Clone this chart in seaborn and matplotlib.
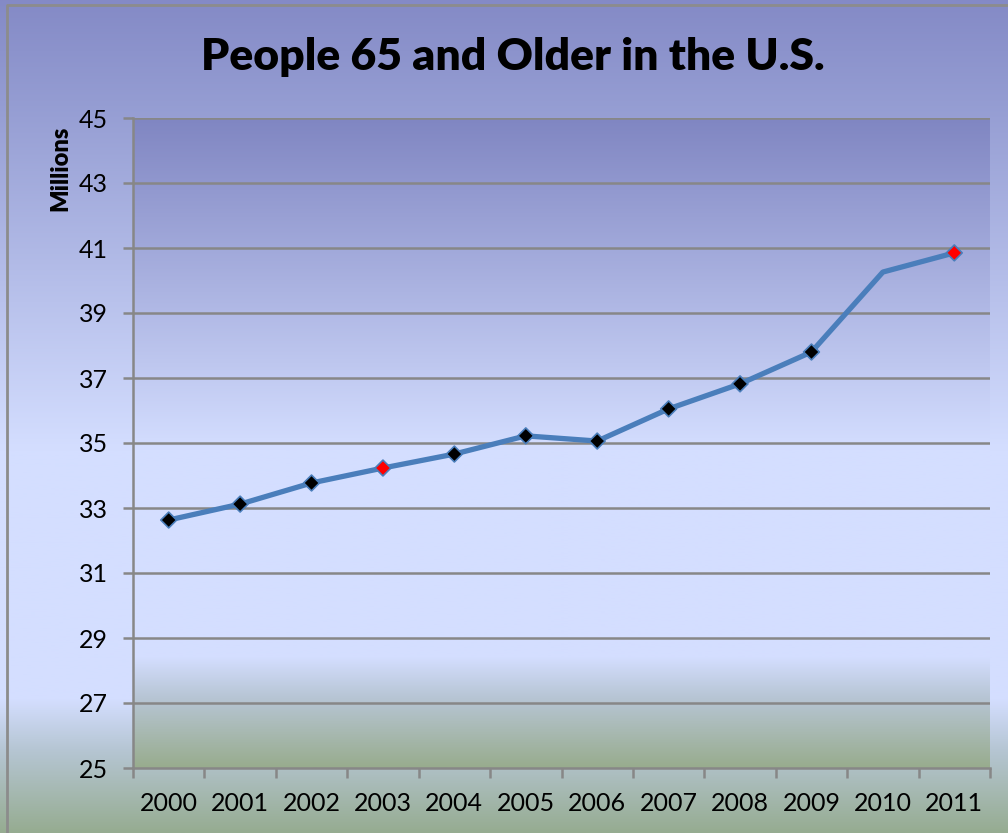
"""People 65 and older in the U.S. - Excel-style line chart with gradient fills."""
import matplotlib
matplotlib.use("Agg")
import matplotlib.pyplot as plt
import numpy as np
import pandas as pd
import seaborn as sns

years = ["2000", "2001", "2002", "2003", "2004", "2005",
         "2006", "2007", "2008", "2009", "2010", "2011"]
millions = [32.63, 33.12, 33.77, 34.23, 34.66, 35.22,
            35.06, 36.05, 36.82, 37.80, 40.26, 40.85]
marker_kind = ["normal", "normal", "normal", "highlight", "normal", "normal",
               "normal", "normal", "normal", "normal", "none", "highlight"]
y_ticks = [25, 27, 29, 31, 33, 35, 37, 39, 41, 43, 45]

sns.set_theme(style="white")
plt.rcParams["font.family"] = ["Lato", "DejaVu Sans"]
plt.rcParams["text.color"] = "black"
plt.rcParams["xtick.color"] = "black"
plt.rcParams["ytick.color"] = "black"

df = pd.DataFrame({"year": years, "pos": np.arange(len(years)),
                   "millions": millions, "kind": marker_kind})

W, H = 1008, 833
fig = plt.figure(figsize=(W / 100, H / 100), dpi=100)


def gradient(stops, n=400):
    # stops: list of (fraction from top, rgb 0-255)
    t = np.linspace(0, 1, n)
    fr = [s[0] for s in stops]
    cols = np.array([s[1] for s in stops], dtype=float) / 255
    img = np.stack([np.interp(t, fr, cols[:, i]) for i in range(3)], axis=1)
    return img[:, None, :]


# figure background gradient
bg = fig.add_axes([0, 0, 1, 1], zorder=-10)
bg.imshow(gradient([(0.0, (132, 138, 198)), (0.12, (148, 156, 210)),
                    (0.54, (212, 222, 255)), (0.84, (212, 222, 255)),
                    (0.90, (182, 198, 212)), (1.0, (150, 172, 145))]),
          aspect="auto", extent=[0, 1, 0, 1], origin="upper")
bg.set_xlim(0, 1)
bg.set_ylim(0, 1)
bg.axis("off")
# outer chart frame
bg.plot([7 / W, 7 / W, 1.01], [-0.01, 1 - 5 / H, 1 - 5 / H],
        color="#8c8c8c", lw=2.0)

ax = fig.add_axes([133 / W, 1 - 768 / H, (990 - 133) / W, (768 - 118) / H])
ax.set_xlim(-0.5, len(years) - 0.5)
ax.set_ylim(25, 45)

# plot area gradient
ax.imshow(gradient([(0.0, (128, 134, 194)), (0.51, (212, 222, 255)),
                    (0.83, (212, 222, 255)), (0.89, (184, 198, 214)),
                    (1.0, (152, 172, 142))]),
          aspect="auto", extent=[-0.5, len(years) - 0.5, 25, 45],
          origin="upper", zorder=0)

for v in y_ticks[1:]:
    ax.axhline(v, color="#878787", lw=1.8, zorder=1)

sns.lineplot(data=df, x="pos", y="millions", ax=ax, color="#4a7ebb",
             lw=3.8, zorder=3, legend=False)
marked = df[df["kind"] != "none"]
sns.scatterplot(data=marked, x="pos", y="millions", hue="kind",
                palette={"normal": "black", "highlight": "red"},
                marker="D", s=65, edgecolor="#4a7ebb", linewidth=1.2,
                ax=ax, zorder=4, legend=False)

ax.set_xticks(np.arange(len(years)))
ax.set_xticklabels(years)
ax.set_xticks(np.arange(-0.5, len(years)), minor=True)
ax.set_yticks(y_ticks)
ax.tick_params(axis="x", which="major", length=0, pad=17, labelsize=18,
               labelcolor="black")
ax.tick_params(axis="x", which="minor", bottom=True, length=7, width=1.8,
               color="#878787")
ax.tick_params(axis="y", left=True, length=7, width=1.8, color="#878787",
               pad=11, labelsize=18, labelcolor="black")
ax.set_xlabel("")
ax.set_ylabel("")

for side in ["top", "right"]:
    ax.spines[side].set_visible(False)
for side in ["left", "bottom"]:
    ax.spines[side].set_color("#878787")
    ax.spines[side].set_linewidth(1.8)
ax.set_facecolor("none")

fig.text(513 / W, 1 - 57 / H, "People 65 and Older in the U.S.",
         ha="center", va="center", fontsize=32, fontweight="heavy",
         color="black")
fig.text(60 / W, 1 - 168 / H, "Millions", rotation=90, ha="center",
         va="center", fontsize=17, fontweight="heavy", color="black")

fig.savefig("out.png", dpi=100)
